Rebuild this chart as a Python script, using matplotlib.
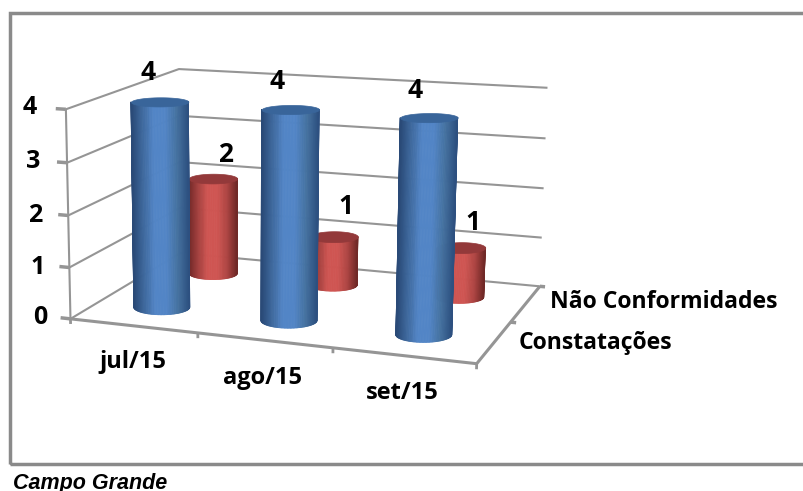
import numpy as np
import matplotlib
matplotlib.use('Agg')
import matplotlib.pyplot as plt
from matplotlib.patches import Rectangle
from matplotlib.colors import LinearSegmentedColormap
from mpl_toolkits.mplot3d import proj3d
from mpl_toolkits.mplot3d.art3d import Poly3DCollection

# chart data
months = ['jul/15', 'ago/15', 'set/15']
series = ['Constatações', 'Não Conformidades']
constatacoes = [4, 4, 4]
nao_conformidades = [2, 1, 1]
yticks = [0, 1, 2, 3, 4]

W, H = 804, 491
fig = plt.figure(figsize=(W / 100, H / 100), dpi=100, facecolor='white')
# square axes bigger than the figure, 3d axes always want a square
ax = fig.add_axes([0, -(W - H) / 2 / H, 1, W / H], projection='3d', computed_zorder=False)
ax.set_axis_off()
ax.patch.set_alpha(0)
ax.set_xlim(0, 3)
ax.set_ylim(0, 2)
ax.set_zlim(0, 4)
ax.apply_aspect()

# fit the projection to the box corners seen in the picture
corners_3d = [(0, 0, 0), (0, 0, 4), (3, 0, 0), (3, 2, 0), (3, 2, 4), (0, 2, 4), (0, 2, 0),
              (1, 0, 0), (2, 0, 0), (3, 1, 0)]
corners_px = [(74, 317), (64, 107), (476, 367), (542, 282), (547, 90), (181, 69), (177, 256),
              (198, 333), (332, 350), (510, 320)]
inv = ax.transData.inverted()
rows = []
for (x, y, z), (px, py) in zip(corners_3d, corners_px):
    u, v = inv.transform((px, H - py))
    rows.append([x, y, z, 1, 0, 0, 0, 0, -u * x, -u * y, -u * z, -u])
    rows.append([0, 0, 0, 0, x, y, z, 1, -v * x, -v * y, -v * z, -v])
sol = np.linalg.svd(np.array(rows))[2][-1]
# third row is only depth, it has to stay negative or mplot3d drops the line points
M = np.array([sol[:4], sol[4:8], [0, -0.01 * sol[11], 0, 0], sol[8:12]])
ax.get_proj = lambda: M
ax.M = M


def to_px(x, y, z):
    a, b, _ = proj3d.proj_transform(x, y, z, M)
    d = ax.transData.transform((a, b))
    return np.array([d[0], d[1]])


GRID = '#959595'


def gline(xs, ys, zs, lw=1.5):
    ax.plot(xs, ys, zs, color=GRID, lw=lw, zorder=1, solid_capstyle='butt')


# walls
for z in yticks:
    gline([0, 0, 3], [0, 2, 2], [z, z, z])
    gline([-0.08, 0], [0, 0], [z, z], lw=2.5)
gline([0, 0], [0, 0], [0, 4])
gline([0, 3, 3], [0, 0, 2], [0, 0, 0], lw=2.2)
for i in range(4):
    gline([i, i], [0, 0], [0, -0.1], lw=2)
for j in [1, 2]:
    gline([3, 3.04], [j, j], [0, 0], lw=2.5)

# cylinders, shading goes across the visible face
blue_cm = LinearSegmentedColormap.from_list('b', ['#2a4a77', '#3f6a9f', '#5285c6', '#5285c6', '#44719f', '#2d5080'])
red_cm = LinearSegmentedColormap.from_list('r', ['#752b2a', '#a84341', '#cf5552', '#cf5552', '#ad4543', '#702927'])


def cylinder(cx, cy, height, rx, ry, cm, top, zo):
    # keep the ellipse upright on screen, like the 3d bars of the original
    c0 = to_px(cx, cy, 0)
    du = to_px(cx + 0.1, cy, 0) - c0
    dv = to_px(cx, cy + 0.1, 0) - c0
    J = np.array([du, dv]).T / 0.1
    Ji = np.linalg.inv(J)
    t = np.linspace(np.pi, 2 * np.pi, 61)
    off = Ji @ np.array([rx * np.cos(t), ry * np.sin(t)])
    X = np.array([cx + off[0], cx + off[0]])
    Y = np.array([cy + off[1], cy + off[1]])
    Z = np.array([np.zeros_like(t), np.full_like(t, height)])
    mid = (t[:-1] + t[1:]) / 2
    colors = cm(np.array([(np.cos(mid) + 1) / 2]))
    surf = ax.plot_surface(X, Y, Z, facecolors=colors, shade=False, rstride=1, cstride=1,
                           linewidth=0.6, antialiased=True, zorder=zo)
    surf.set_edgecolor(colors[0])  # hides the seams between the facets
    # cap
    t2 = np.linspace(0, 2 * np.pi, 61)
    off2 = Ji @ np.array([rx * np.cos(t2), ry * np.sin(t2)])
    verts = [list(zip(cx + off2[0], cy + off2[1], np.full_like(t2, height)))]
    ax.add_collection3d(Poly3DCollection(verts, facecolor=top, edgecolor=top, linewidth=0.5, zorder=zo + 0.5))


blue_y = 0.5
red_y = 1.5
for i in range(3):
    cylinder(i + 0.5, red_y, nao_conformidades[i], 24, 6, red_cm, '#93393a', 2 + i * 0.01)
for i in range(3):
    cylinder(i + 0.5, blue_y, constatacoes[i], 28, 7.5, blue_cm, '#39659a', 3 + i * 0.01)


def label(px, py, s, size, **kw):
    fig.text(px / W, 1 - py / H, s, fontsize=size, ha='center', va='center',
             family='Open Sans', fontweight='bold', color='black', **kw)


# value labels
blue_lab = [(148, 72), (277, 81), (415, 90)]
red_lab = [(226, 155), (346, 206), (473, 222)]
for (px, py), v in zip(blue_lab, constatacoes):
    label(px, py, str(v), 19)
for (px, py), v in zip(red_lab, nao_conformidades):
    label(px, py, str(v), 19)

# axis labels
ylab_pos = [(40, 317), (38, 267), (35, 215), (33, 162), (30, 108)]
for (px, py), v in zip(ylab_pos, yticks):
    label(px, py, str(v), 18)
month_pos = [(133, 362), (263, 378), (402, 393)]
for (px, py), m in zip(month_pos, months):
    label(px, py, m, 17)
label(595.5, 343, series[0], 16.6)
label(663.5, 302, series[1], 16.6)

# outer frame and caption
fig.add_artist(Rectangle((10.5 / W, 1 - 464 / H), 800 / W, 451 / H, transform=fig.transFigure,
                         fill=False, edgecolor='#8a8a8a', lw=2.5))
fig.text(13 / W, 1 - 489 / H, 'Campo Grande', fontsize=15.5, family='Liberation Sans',
         fontweight='bold', style='italic', ha='left', va='baseline')

fig.savefig('out.png', dpi=100)
